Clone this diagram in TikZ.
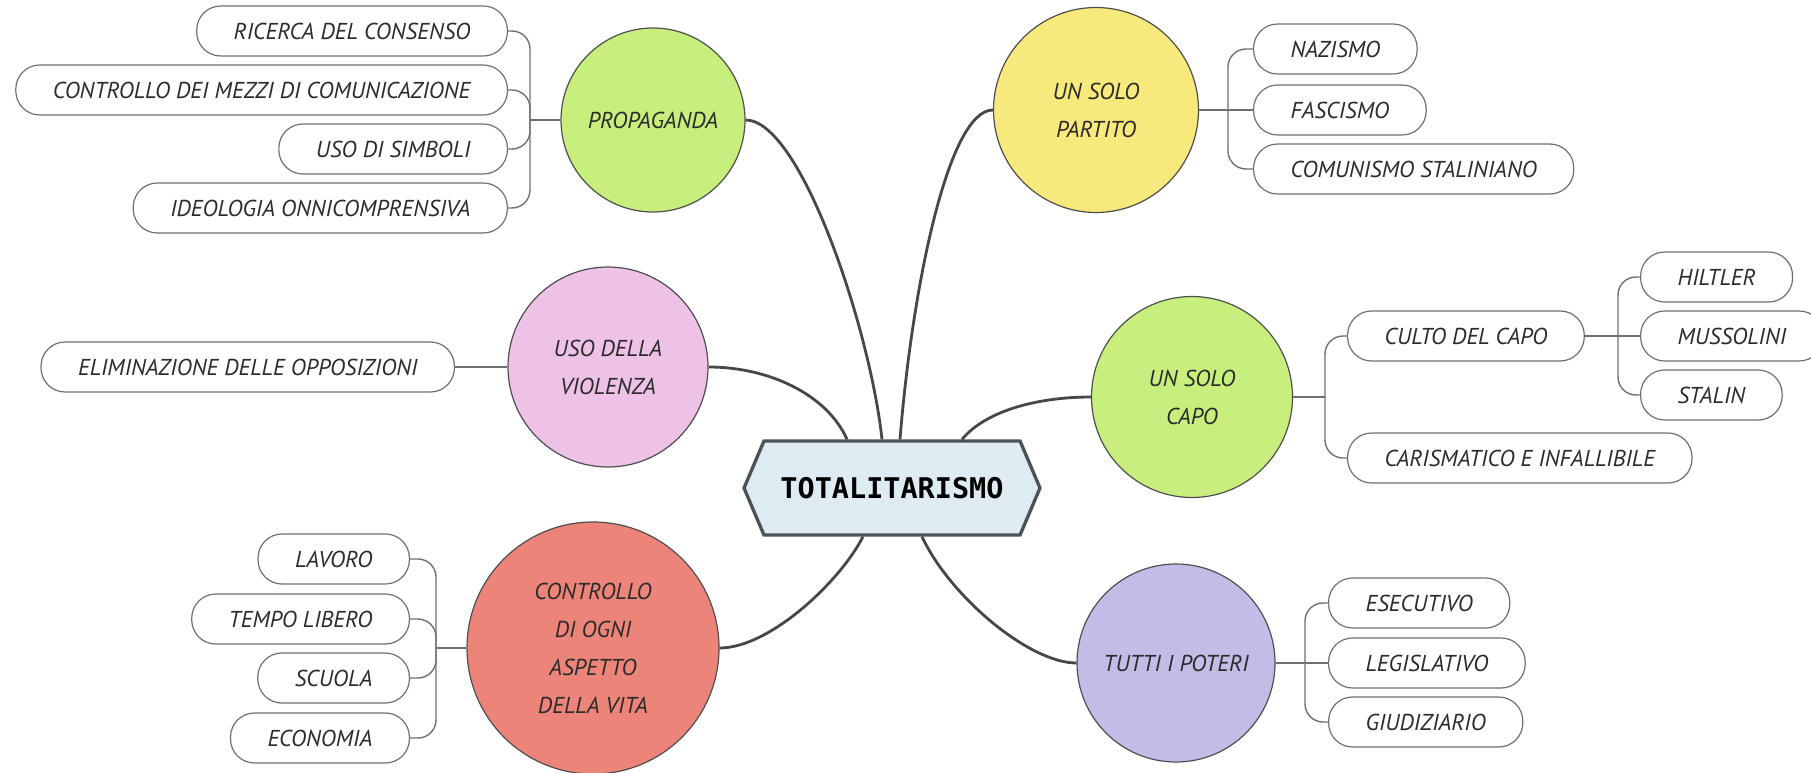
\documentclass[tikz,border=0pt]{standalone}
\usepackage{fontspec}
\newfontfamily\handfont{PT Sans}
\newfontfamily\totfont{DejaVu Sans Mono}
\newcommand{\handtxt}{\handfont\itshape\fontsize{23}{38}\selectfont}
\usetikzlibrary{shapes.symbols}
\definecolor{cgreen}{HTML}{C8EF7E}
\definecolor{cyellow}{HTML}{F8E97C}
\definecolor{cpink}{HTML}{EEC1E7}
\definecolor{cred}{HTML}{EC8479}
\definecolor{cviolet}{HTML}{C2BCE6}
\definecolor{hexfill}{HTML}{DFEBF2}
\definecolor{hexline}{HTML}{4A5254}
\definecolor{darkline}{HTML}{474747}
\definecolor{thinline}{HTML}{707070}
\definecolor{inktext}{HTML}{2B2B2B}
\begin{document}
\begin{tikzpicture}[x=1pt, y=-1pt,
	hexa/.style={signal, signal to=west and east, signal pointer angle=134, draw=hexline, line width=3.3pt, fill=hexfill, minimum width=296pt, minimum height=94pt, font=\totfont\bfseries\fontsize{28.5}{30}\selectfont},
	topic/.style={circle, draw=thinline!70!black, line width=1.2pt, align=center, text=inktext, inner sep=0pt, font=\handtxt},
	leaf/.style={draw=thinline, line width=1.2pt, fill=white, rounded corners=24pt, minimum height=50pt, inner xsep=37pt, text=inktext, font=\handtxt},
	trunk/.style={draw=darkline, line width=2.8pt},
	twig/.style={draw=thinline, line width=1.4pt, rounded corners=18pt}]
			\useasboundingbox (0,0) rectangle (1811,773);
			\node[hexa] (tot) at (892,488) {TOTALITARISMO};
			\node[topic, fill=cgreen, minimum size=184pt] (prop) at (653,120) {PROPAGANDA};
			\node[topic, fill=cpink, minimum size=200pt] (viol) at (608,367) {USO DELLA\\VIOLENZA};
			\node[topic, fill=cred, minimum size=252pt] (ctrl) at (593,648) {CONTROLLO\\DI OGNI\\ASPETTO\\DELLA VITA};
			\node[topic, fill=cyellow, minimum size=205pt] (part) at (1096,110) {UN SOLO\\PARTITO};
			\node[topic, fill=cgreen, minimum size=201pt] (capo) at (1192,397) {UN SOLO\\CAPO};
			\node[topic, fill=cviolet, minimum size=198pt] (pot) at (1176,663) {TUTTI I POTERI};
			\node[leaf, anchor=east] (r1) at (508,31) {RICERCA DEL CONSENSO};
			\node[leaf, anchor=east] (r2) at (508,90) {CONTROLLO DEI MEZZI DI COMUNICAZIONE};
			\node[leaf, anchor=east] (r3) at (508,149) {USO DI SIMBOLI};
			\node[leaf, anchor=east] (r4) at (508,208) {IDEOLOGIA ONNICOMPRENSIVA};
			\node[leaf, anchor=east] (e1) at (455,367) {ELIMINAZIONE DELLE OPPOSIZIONI};
			\node[leaf, anchor=east] (k1) at (410,559) {LAVORO};
			\node[leaf, anchor=east] (k2) at (410,619) {TEMPO LIBERO};
			\node[leaf, anchor=east] (k3) at (410,678) {SCUOLA};
			\node[leaf, anchor=east] (k4) at (410,738) {ECONOMIA};
			\node[leaf, anchor=west] (p1) at (1253,49) {NAZISMO};
			\node[leaf, anchor=west] (p2) at (1253,110) {FASCISMO};
			\node[leaf, anchor=west] (p3) at (1253,169) {COMUNISMO STALINIANO};
			\node[leaf, anchor=west] (c1) at (1347,336) {CULTO DEL CAPO};
			\node[leaf, anchor=west] (c2) at (1347,458) {CARISMATICO E INFALLIBILE};
			\node[leaf, anchor=west] (s1) at (1640,277) {HILTLER};
			\node[leaf, anchor=west] (s2) at (1640,336) {MUSSOLINI};
			\node[leaf, anchor=west] (s3) at (1640,395) {STALIN};
			\node[leaf, anchor=west] (g1) at (1328,603) {ESECUTIVO};
			\node[leaf, anchor=west] (g2) at (1328,663) {LEGISLATIVO};
			\node[leaf, anchor=west] (g3) at (1328,722) {GIUDIZIARIO};
			\coordinate (jp) at (530,120);
			\coordinate (jk) at (436,648);
			\coordinate (jq) at (1228,110);
			\coordinate (jc) at (1325,397);
			\coordinate (js) at (1618,336);
			\coordinate (jg) at (1305,663);
			\coordinate (hP) at ([xshift=-10pt]tot.north);
			\coordinate (hQ) at ([xshift=8pt]tot.north);
			\coordinate (hV) at ([xshift=-45pt]tot.north);
			\coordinate (hC) at ([xshift=70pt]tot.north);
			\coordinate (hK) at ([xshift=-29pt]tot.south);
			\coordinate (hT) at ([xshift=30pt]tot.south);
			\draw[trunk] (hP) .. controls +(-12,-111) and +(55,0) .. (prop.east);
			\draw[trunk] (hQ) .. controls +(12,-150) and +(-45,0) .. (part.west);
			\draw[trunk] (hV) .. controls +(-20,-45) and +(60,0) .. (viol.east);
			\draw[trunk] (hC) .. controls +(25,-30) and +(-50,0) .. (capo.west);
			\draw[trunk] (hK) .. controls +(-23,45) and +(50,0) .. (ctrl.east);
			\draw[trunk] (hT) .. controls +(28,60) and +(-47,0) .. (pot.west);
			\draw[twig] (prop.west) -- (jp);
			\foreach \n in {r1,r2,r3,r4} \draw[twig] (jp) |- (\n.east);
			\draw[twig] (viol.west) -- (e1.east);
			\draw[twig] (ctrl.west) -- (jk);
			\foreach \n in {k1,k2,k3,k4} \draw[twig] (jk) |- (\n.east);
			\draw[twig] (part.east) -- (p2.west);
			\foreach \n in {p1,p3} \draw[twig] (jq) |- (\n.west);
			\draw[twig] (capo.east) -- (jc);
			\foreach \n in {c1,c2} \draw[twig] (jc) |- (\n.west);
			\draw[twig] (c1.east) -- (s2.west);
			\foreach \n in {s1,s3} \draw[twig] (js) |- (\n.west);
			\draw[twig] (pot.east) -- (g2.west);
			\foreach \n in {g1,g3} \draw[twig] (jg) |- (\n.west);
\end{tikzpicture}
\end{document}
